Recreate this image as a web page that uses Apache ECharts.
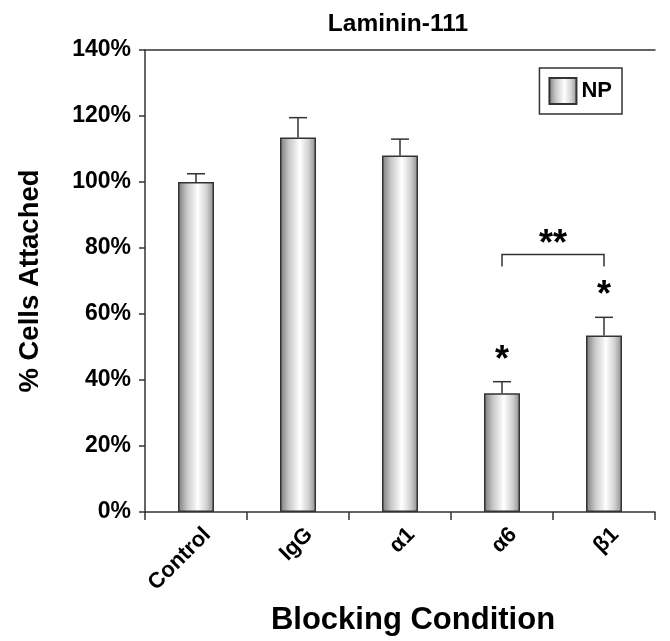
<!DOCTYPE html>
<html><head><meta charset="utf-8">
<script src="https://cdn.jsdelivr.net/npm/echarts@6/dist/echarts.min.js"></script>
<style>html,body{margin:0;padding:0;background:#fff}#c{width:670px;height:641px}</style>
</head><body><div id="c"></div>
<script>
const categories = ['Control', 'IgG', 'α1', 'α6', 'β1'];
const npValues = [100, 113.5, 108, 36, 53.5];
const npErrors = [2.5, 6, 5, 3.5, 5.5];
const starMarks = ['', '', '', '*', '*'];
const bracketPair = [3, 4];
const bracketLevel = 78;
const bracketLabel = '**';
const yTicks = [0, 20, 40, 60, 80, 100, 120, 140];

const F = '"Liberation Sans", Arial, sans-serif';
const grad = {type:'linear', x:0, y:0, x2:1, y2:0, colorStops:[
  {offset:0, color:'#7a7a7a'}, {offset:0.25, color:'#c8c8c8'}, {offset:0.55, color:'#ffffff'},
  {offset:0.8, color:'#d0d0d0'}, {offset:1, color:'#8c8c8c'}]};

const chart = echarts.init(document.getElementById('c'));
chart.setOption({
  animation:false,
  title:{text:'Laminin-111', left:393, top:7, textAlign:'center',
    textStyle:{fontFamily:F, fontWeight:'bold', fontSize:24.5, color:'#000'}},
  legend:{data:['NP'], icon:'rect', right:48, top:68, orient:'vertical', itemWidth:27, itemHeight:26,
    padding:[9,10,9,9], borderColor:'#333', borderWidth:1.5, itemGap:0,
    textStyle:{fontFamily:F, fontWeight:'bold', fontSize:22, color:'#000'}},
  grid:{left:145, right:15, top:50, bottom:127},
  xAxis:[{type:'category', data:categories, name:'Blocking Condition', nameLocation:'middle', nameGap:92,
    nameTextStyle:{fontFamily:F, fontWeight:'bold', fontSize:31, color:'#000', padding:[0,0,0,26]},
    axisLine:{lineStyle:{color:'#333', width:1.5}},
    axisTick:{show:true, length:8, lineStyle:{color:'#333', width:1.5}},
    axisLabel:{rotate:45, interval:0, margin:8, verticalAlign:'top', lineHeight:32, fontFamily:F, fontWeight:'bold', fontSize:22, color:'#000'}},
   {type:'category', data:categories, position:'top', axisLine:{lineStyle:{color:'#333', width:1.5}},
    axisTick:{show:false}, axisLabel:{show:false}}],
  yAxis:{type:'value', min:yTicks[0], max:yTicks[yTicks.length-1], interval:20,
    name:'% Cells Attached', nameLocation:'middle', nameGap:101, nameRotate:90,
    nameTextStyle:{fontFamily:F, fontWeight:'bold', fontSize:27.5, color:'#000'},
    axisLine:{show:true, lineStyle:{color:'#333', width:1.5}},
    axisTick:{show:true, length:6, lineStyle:{color:'#333', width:1.5}},
    splitLine:{show:false},
    axisLabel:{formatter:'{value}%', margin:14, fontFamily:F, fontWeight:'bold', fontSize:23, color:'#000'}},
  series:[
    {name:'NP', type:'bar', data:npValues, barWidth:36,
      itemStyle:{color:grad, borderColor:'#333', borderWidth:1.5}},
    {type:'custom', data:npValues.map((v,i)=>[i, v, npErrors[i]]), z:5,
      renderItem:(p, api)=>{
        const i=api.value(0), v=api.value(1), e=api.value(2);
        const b=api.coord([i, v]), t=api.coord([i, v+e]);
        const ch=[
          {type:'line', shape:{x1:b[0], y1:b[1], x2:t[0], y2:t[1]}, style:{stroke:'#333', lineWidth:1.5}},
          {type:'line', shape:{x1:t[0]-9, y1:t[1], x2:t[0]+9, y2:t[1]}, style:{stroke:'#333', lineWidth:1.5}}];
        const s=starMarks[i];
        if(s){ch.push({type:'text', x:t[0], y:t[1]-3, style:{text:s, fontFamily:F, fontWeight:'bold', fontSize:36, fill:'#000', align:'center', verticalAlign:'bottom'}});}
        return {type:'group', children:ch};
      }},
    {type:'custom', data:[[bracketPair[0], bracketPair[1], bracketLevel]], z:5,
      renderItem:(p, api)=>{
        const a=api.coord([api.value(0), api.value(2)]), b=api.coord([api.value(1), api.value(2)]);
        const drop=12;
        return {type:'group', children:[
          {type:'polyline', shape:{points:[[a[0], a[1]+drop],[a[0], a[1]],[b[0], b[1]],[b[0], b[1]+drop]]}, style:{stroke:'#333', lineWidth:1.5, fill:null}},
          {type:'text', x:(a[0]+b[0])/2, y:a[1]+8, style:{text:bracketLabel, fontFamily:F, fontWeight:'bold', fontSize:36, fill:'#000', align:'center', verticalAlign:'bottom'}}]};
      }}
  ]
});
</script></body></html>
